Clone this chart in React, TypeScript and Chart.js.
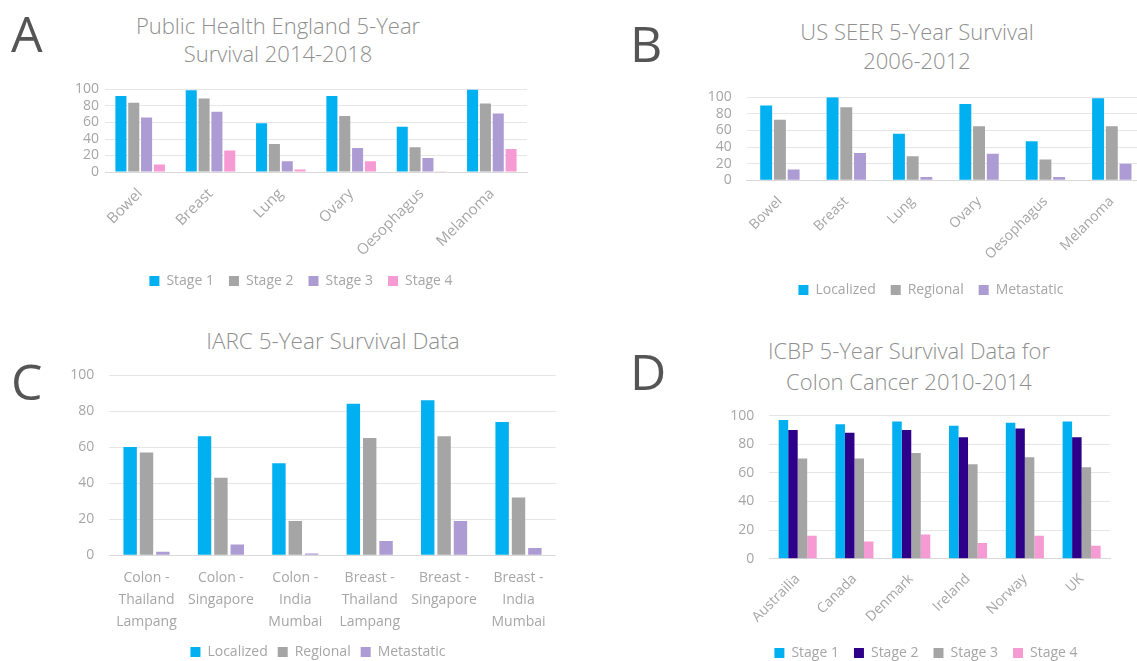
import React, { useEffect, useRef } from "react";
import { Chart, registerables } from "chart.js";

Chart.register(...registerables);

// ---------- colours ----------
const CYAN = "#00b0f0";
const GREY = "#a5a5a5";
const PURPLE = "#ad9bd3";
const PINK = "#f59ad2";
const NAVY = "#2e0089";
const TEXT = "#a6a6a6";
const TITLE = "#8f8f8f";
const FONT = "'Open Sans', 'Liberation Sans', sans-serif";

// ---------- Panel A: Public Health England ----------
const pheCategories = ["Bowel", "Breast", "Lung", "Ovary", "Oesophagus", "Melanoma"];
const pheStage1 = [92, 99, 59, 92, 55, 100];
const pheStage2 = [84, 89, 34, 68, 30, 83];
const pheStage3 = [66, 73, 13, 29, 17, 71];
const pheStage4 = [9, 26, 3, 13, 1, 28];

// ---------- Panel B: US SEER ----------
const seerCategories = ["Bowel", "Breast", "Lung", "Ovary", "Oesophagus", "Melanoma"];
const seerLocalized = [90, 100, 56, 92, 47, 99];
const seerRegional = [73, 88, 29, 65, 25, 65];
const seerMetastatic = [13, 33, 4, 32, 4, 20];

// ---------- Panel C: IARC ----------
const iarcCategories = [
  ["Colon -", "Thailand", "Lampang"],
  ["Colon -", "Singapore"],
  ["Colon -", "India", "Mumbai"],
  ["Breast -", "Thailand", "Lampang"],
  ["Breast -", "Singapore"],
  ["Breast -", "India", "Mumbai"],
];
const iarcLocalized = [60, 66, 51, 84, 86, 74];
const iarcRegional = [57, 43, 19, 65, 66, 32];
const iarcMetastatic = [2, 6, 1, 8, 19, 4];

// ---------- Panel D: ICBP ----------
const icbpCategories = ["Austrailia", "Canada", "Denmark", "Ireland", "Norway", "UK"];
const icbpStage1 = [97, 94, 96, 93, 95, 96];
const icbpStage2 = [90, 88, 90, 85, 91, 85];
const icbpStage3 = [70, 70, 74, 66, 71, 64];
const icbpStage4 = [16, 12, 17, 11, 16, 9];

const yTicks = [0, 20, 40, 60, 80, 100];

// shifts the legend horizontally so that it is centred on a given x (canvas coords)
const legendShift = {
  id: "legendShift",
  afterLayout(chart: any, _args: any, opts: any) {
    const lg = chart.legend;
    if (!lg || opts == null || opts.center == null) return;
    const dx = opts.center - (lg.left + lg.right) / 2;
    lg.left += dx;
    lg.right += dx;
  },
};

type DS = { label: string; data: number[]; color: string };
type PanelProps = {
  left: number;
  top: number;
  width: number;
  height: number;
  padding: { left: number; right: number; top: number; bottom: number };
  yWidth: number;
  xHeight: number;
  labels: any[];
  datasets: DS[];
  catPct: number;
  barPct: number;
  rotate: number;
  yPad: number;
  xPad: number;
  xLineHeight?: number;
  legendCenter: number;
  legendPad: number;
  xFont?: number;
};

function BarPanel(p: PanelProps) {
  const ref = useRef<HTMLCanvasElement>(null);
  useEffect(() => {
    const chart = new Chart(ref.current as HTMLCanvasElement, {
      type: "bar",
      data: {
        labels: p.labels,
        datasets: p.datasets.map((d) => ({
          label: d.label,
          data: d.data,
          backgroundColor: d.color,
          borderWidth: 0,
          categoryPercentage: p.catPct,
          barPercentage: p.barPct,
        })),
      },
      plugins: [legendShift],
      options: {
        animation: false,
        responsive: false,
        maintainAspectRatio: false,
        layout: { padding: p.padding },
        plugins: {
          legend: {
            position: "bottom",
            labels: {
              boxWidth: 10,
              boxHeight: 10,
              padding: p.legendPad,
              color: TEXT,
              font: { family: FONT, size: 14 },
            },
          },
          tooltip: { enabled: false },
          legendShift: { center: p.legendCenter },
        } as any,
        scales: {
          x: {
            grid: { display: false, drawTicks: false },
            border: { color: "#d9d9d9", width: 1 },
            ticks: {
              color: TEXT,
              font: { family: FONT, size: p.xFont ?? 14, lineHeight: p.xLineHeight ?? 1.2 },
              minRotation: p.rotate,
              maxRotation: p.rotate,
              autoSkip: false,
              padding: p.xPad,
            },
            afterFit: (s: any) => {
              s.height = p.xHeight;
            },
          },
          y: {
            min: 0,
            max: 100,
            afterBuildTicks: (s: any) => {
              s.ticks = yTicks.map((v) => ({ value: v }));
            },
            ticks: {
              color: TEXT,
              font: { family: FONT, size: 14 },
              padding: p.yPad,
              autoSkip: false,
            },
            grid: { color: "#e6e6e6", drawTicks: false },
            border: { display: false },
            afterFit: (s: any) => {
              s.width = p.yWidth;
            },
          },
        },
      },
    });
    return () => chart.destroy();
  }, []);
  return (
    <canvas
      ref={ref}
      width={p.width}
      height={p.height}
      style={{ position: "absolute", left: p.left, top: p.top, width: p.width, height: p.height }}
    />
  );
}

function Title(props: { cx: number; top: number; lines: string[]; lh: number; size: number }) {
  return (
    <div
      style={{
        position: "absolute",
        left: props.cx - 300,
        width: 600,
        top: props.top,
        textAlign: "center",
        fontFamily: FONT,
        fontSize: props.size,
        lineHeight: props.lh + "px",
        color: TITLE,
        fontWeight: 300,
        whiteSpace: "nowrap",
      }}
    >
      {props.lines.map((l, i) => (
        <div key={i}>{l}</div>
      ))}
    </div>
  );
}

function Letter(props: { x: number; y: number; t: string }) {
  return (
    <div
      style={{
        position: "absolute",
        left: props.x,
        top: props.y,
        fontFamily: FONT,
        fontSize: 50,
        lineHeight: "50px",
        color: "#555555",
        fontWeight: 400,
      }}
    >
      {props.t}
    </div>
  );
}

export default function App() {
  return (
    <div
      style={{
        position: "fixed",
        left: 0,
        top: 0,
        width: 1137,
        height: 661,
        overflow: "hidden",
        background: "#ffffff",
      }}
    >
      <Letter x={11} y={8} t="A" />
      <Letter x={630} y={18} t="B" />
      <Letter x={11} y={356} t="C" />
      <Letter x={630} y={346} t="D" />

      <Title cx={278} top={11} lines={["Public Health England 5-Year", "Survival 2014-2018"]} lh={28} size={22} />
      <Title cx={917} top={17} lines={["US SEER 5-Year Survival", "2006-2012"]} lh={29} size={22} />
      <Title cx={333} top={326} lines={["IARC 5-Year Survival Data"]} lh={29} size={22.5} />
      <Title cx={909} top={335} lines={["ICBP 5-Year Survival Data for", "Colon Cancer 2010-2014"]} lh={31} size={22} />

      <BarPanel
        left={55}
        top={75}
        width={492}
        height={227}
        padding={{ left: 0, right: 20, top: 14.5, bottom: 4 }}
        yWidth={50}
        xHeight={87}
        labels={pheCategories}
        datasets={[
          { label: "Stage 1", data: pheStage1, color: CYAN },
          { label: "Stage 2", data: pheStage2, color: GREY },
          { label: "Stage 3", data: pheStage3, color: PURPLE },
          { label: "Stage 4", data: pheStage4, color: PINK },
        ]}
        catPct={0.73}
        barPct={0.86}
        rotate={45}
        yPad={6}
        xPad={13}
        xFont={15}
        legendCenter={246}
        legendPad={15}
      />
      <BarPanel
        left={697}
        top={73}
        width={468}
        height={238}
        padding={{ left: 0, right: 20, top: 24.3, bottom: 4 }}
        yWidth={49.7}
        xHeight={87.7}
        labels={seerCategories}
        datasets={[
          { label: "Localized", data: seerLocalized, color: CYAN },
          { label: "Regional", data: seerRegional, color: GREY },
          { label: "Metastatic", data: seerMetastatic, color: PURPLE },
        ]}
        catPct={0.62}
        barPct={0.87}
        rotate={45}
        yPad={15}
        xPad={13}
        legendCenter={234}
        legendPad={15}
      />
      <BarPanel
        left={60}
        top={351}
        width={516}
        height={322}
        padding={{ left: 0, right: 20.3, top: 24, bottom: 4 }}
        yWidth={49.3}
        xHeight={79.7}
        labels={iarcCategories}
        datasets={[
          { label: "Localized", data: iarcLocalized, color: CYAN },
          { label: "Regional", data: iarcRegional, color: GREY },
          { label: "Metastatic", data: iarcMetastatic, color: PURPLE },
        ]}
        catPct={0.66}
        barPct={0.82}
        rotate={0}
        yPad={15}
        xPad={12}
        xLineHeight={1.55}
        legendCenter={258}
        legendPad={10}
      />
      <BarPanel
        left={722}
        top={391}
        width={408}
        height={283}
        padding={{ left: 0, right: 20, top: 24.7, bottom: 4 }}
        yWidth={47.3}
        xHeight={72.3}
        labels={icbpCategories}
        datasets={[
          { label: "Stage 1", data: icbpStage1, color: CYAN },
          { label: "Stage 2", data: icbpStage2, color: NAVY },
          { label: "Stage 3", data: icbpStage3, color: GREY },
          { label: "Stage 4", data: icbpStage4, color: PINK },
        ]}
        catPct={0.67}
        barPct={1.0}
        rotate={45}
        yPad={15}
        xPad={12}
        legendCenter={204}
        legendPad={15}
      />
    </div>
  );
}
